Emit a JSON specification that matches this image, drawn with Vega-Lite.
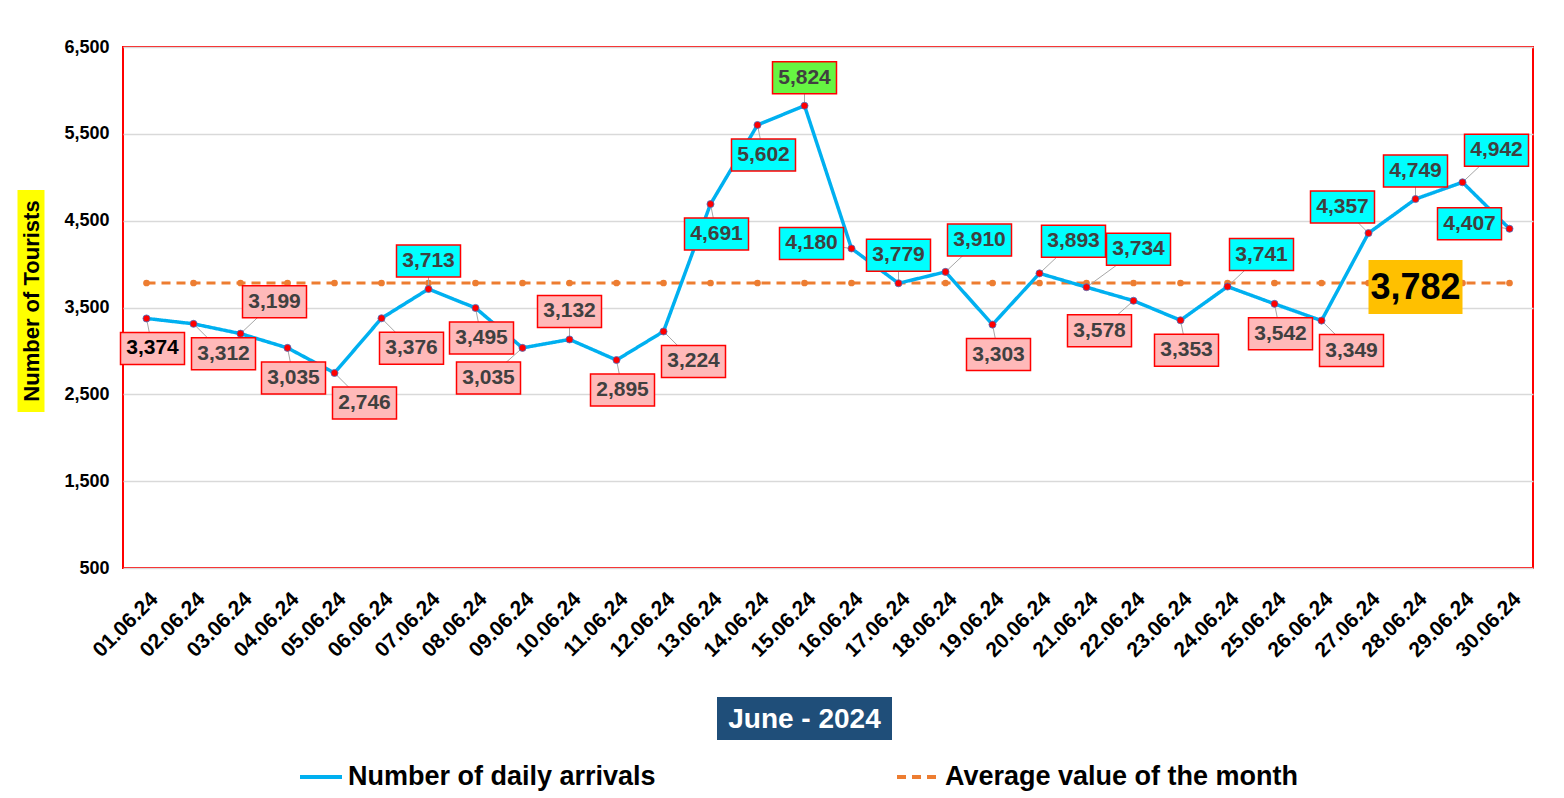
{
  "$schema": "https://vega.github.io/schema/vega-lite/v6.json",
  "width": 1410,
  "height": 521,
  "autosize": {"type": "none"},
  "padding": {"left": 123, "top": 47, "right": 31, "bottom": 230},
  "background": "white",
  "config": {
    "font": "Liberation Sans",
    "view": {"stroke": "#FF0000", "strokeWidth": 2},
    "legend": {
      "orient": "none",
      "legendX": 175,
      "legendY": 707,
      "direction": "horizontal",
      "symbolType": "stroke",
      "symbolSize": 1764,
      "symbolStrokeWidth": 4,
      "labelFontSize": 27,
      "labelFontWeight": "bold",
      "labelColor": "black",
      "labelLimit": 0,
      "labelOffset": 4,
      "columnPadding": 233
    }
  },
  "data": {
    "values": [
      {"date": "01.06.24", "arrivals": 3374, "average": 3782, "pos": "down", "cat": "low"},
      {"date": "02.06.24", "arrivals": 3312, "average": 3782, "pos": "downright", "cat": "low"},
      {"date": "03.06.24", "arrivals": 3199, "average": 3782, "pos": "upright", "cat": "low"},
      {"date": "04.06.24", "arrivals": 3035, "average": 3782, "pos": "down", "cat": "low"},
      {"date": "05.06.24", "arrivals": 2746, "average": 3782, "pos": "downright", "cat": "low"},
      {"date": "06.06.24", "arrivals": 3376, "average": 3782, "pos": "downright", "cat": "low"},
      {"date": "07.06.24", "arrivals": 3713, "average": 3782, "pos": "up", "cat": "high"},
      {"date": "08.06.24", "arrivals": 3495, "average": 3782, "pos": "down", "cat": "low"},
      {"date": "09.06.24", "arrivals": 3035, "average": 3782, "pos": "downleft", "cat": "low"},
      {"date": "10.06.24", "arrivals": 3132, "average": 3782, "pos": "up", "cat": "low"},
      {"date": "11.06.24", "arrivals": 2895, "average": 3782, "pos": "down", "cat": "low"},
      {"date": "12.06.24", "arrivals": 3224, "average": 3782, "pos": "downright", "cat": "low"},
      {"date": "13.06.24", "arrivals": 4691, "average": 3782, "pos": "down", "cat": "high"},
      {"date": "14.06.24", "arrivals": 5602, "average": 3782, "pos": "down", "cat": "high"},
      {"date": "15.06.24", "arrivals": 5824, "average": 3782, "pos": "up", "cat": "max"},
      {"date": "16.06.24", "arrivals": 4180, "average": 3782, "pos": "left", "cat": "high"},
      {"date": "17.06.24", "arrivals": 3779, "average": 3782, "pos": "up", "cat": "high"},
      {"date": "18.06.24", "arrivals": 3910, "average": 3782, "pos": "upright", "cat": "high"},
      {"date": "19.06.24", "arrivals": 3303, "average": 3782, "pos": "down", "cat": "low"},
      {"date": "20.06.24", "arrivals": 3893, "average": 3782, "pos": "upright", "cat": "high"},
      {"date": "21.06.24", "arrivals": 3734, "average": 3782, "pos": "right", "cat": "high"},
      {"date": "22.06.24", "arrivals": 3578, "average": 3782, "pos": "downleft", "cat": "low"},
      {"date": "23.06.24", "arrivals": 3353, "average": 3782, "pos": "down", "cat": "low"},
      {"date": "24.06.24", "arrivals": 3741, "average": 3782, "pos": "upright", "cat": "high"},
      {"date": "25.06.24", "arrivals": 3542, "average": 3782, "pos": "down", "cat": "low"},
      {"date": "26.06.24", "arrivals": 3349, "average": 3782, "pos": "downright", "cat": "low"},
      {"date": "27.06.24", "arrivals": 4357, "average": 3782, "pos": "upleft", "cat": "high"},
      {"date": "28.06.24", "arrivals": 4749, "average": 3782, "pos": "up", "cat": "high"},
      {"date": "29.06.24", "arrivals": 4942, "average": 3782, "pos": "upright", "cat": "high"},
      {"date": "30.06.24", "arrivals": 4407, "average": 3782, "pos": "left", "cat": "high"}
    ]
  },
  "encoding": {
    "x": {
      "field": "date",
      "type": "ordinal",
      "scale": {"type": "point", "padding": 0.5},
      "axis": {
        "title": null,
        "labelAngle": -45,
        "labelAlign": "right",
        "labelBaseline": "top",
        "labelFontSize": 21,
        "labelFontWeight": "bold",
        "labelColor": "black",
        "labelPadding": 20,
        "ticks": false,
        "domain": false,
        "grid": false
      }
    }
  },
  "layer": [
    {
      "mark": {"type": "line", "strokeWidth": 3},
      "encoding": {
        "y": {
          "field": "average",
          "type": "quantitative",
          "scale": {"domain": [500, 6500], "nice": false, "zero": false},
          "axis": {
            "title": null,
            "values": [500, 1500, 2500, 3500, 4500, 5500, 6500],
            "format": ",.0f",
            "labelFontSize": 18,
            "labelFontWeight": "bold",
            "labelColor": "black",
            "labelPadding": 14,
            "ticks": false,
            "domain": false,
            "gridColor": "#D9D9D9",
            "gridWidth": 1.5
          }
        },
        "color": {
          "datum": "Average value of the month",
          "scale": {"domain": ["Number of daily arrivals", "Average value of the month"], "range": ["#00B0F0", "#ED7D31"]},
          "legend": {"title": null}
        },
        "strokeDash": {
          "datum": "Average value of the month",
          "scale": {"domain": ["Number of daily arrivals", "Average value of the month"], "range": [[1, 0], [9, 6]]},
          "legend": {"title": null}
        }
      }
    },
    {
      "mark": {"type": "point", "filled": true, "color": "#ED7D31", "size": 45, "opacity": 1},
      "encoding": {"y": {"field": "average", "type": "quantitative"}}
    },
    {
      "mark": {"type": "line", "strokeWidth": 3.5},
      "encoding": {
        "y": {"field": "arrivals", "type": "quantitative"},
        "color": {"datum": "Number of daily arrivals"},
        "strokeDash": {"datum": "Number of daily arrivals"}
      }
    },
    {
      "mark": {
        "type": "rule",
        "color": "#A6A6A6",
        "strokeWidth": 1,
        "x2Offset": {"expr": "datum.pos=='down'?6:datum.pos=='upright'?34:datum.pos=='downright'?30:datum.pos=='downleft'?-34:datum.pos=='upleft'?-26:datum.pos=='left'?-40:datum.pos=='right'?52:0"},
        "y2Offset": {"expr": "datum.pos=='up'?-28:datum.pos=='down'?30:datum.pos=='upright'?-32:datum.pos=='downright'?30:datum.pos=='downleft'?30:datum.pos=='upleft'?-26:datum.pos=='left'?-5:datum.pos=='right'?-38:0"}
      },
      "encoding": {
        "y": {"field": "arrivals", "type": "quantitative"},
        "x2": {"field": "date"},
        "y2": {"field": "arrivals"}
      }
    },
    {
      "mark": {"type": "point", "filled": true, "fill": "#FF0000", "stroke": "#4472C4", "strokeWidth": 0.8, "size": 50, "opacity": 1},
      "encoding": {"y": {"field": "arrivals", "type": "quantitative"}}
    },
    {
      "mark": {
        "type": "point",
        "shape": "M-1,-0.5H1V0.5H-1Z",
        "size": 4096,
        "filled": true,
        "opacity": 1,
        "stroke": "#FF0000",
        "strokeWidth": 1.5,
        "xOffset": {"expr": "datum.pos=='down'?6:datum.pos=='upright'?34:datum.pos=='downright'?30:datum.pos=='downleft'?-34:datum.pos=='upleft'?-26:datum.pos=='left'?-40:datum.pos=='right'?52:0"},
        "yOffset": {"expr": "datum.pos=='up'?-28:datum.pos=='down'?30:datum.pos=='upright'?-32:datum.pos=='downright'?30:datum.pos=='downleft'?30:datum.pos=='upleft'?-26:datum.pos=='left'?-5:datum.pos=='right'?-38:0"}
      },
      "encoding": {
        "y": {"field": "arrivals", "type": "quantitative"},
        "fill": {
          "field": "cat",
          "type": "nominal",
          "scale": {"domain": ["high", "low", "max"], "range": ["#00FFFF", "#FFB9B9", "#66F542"]},
          "legend": null
        }
      }
    },
    {
      "mark": {
        "type": "text",
        "fontSize": 21,
        "fontWeight": "bold",
        "align": "center",
        "baseline": "middle",
        "dx": {"expr": "datum.pos=='down'?6:datum.pos=='upright'?34:datum.pos=='downright'?30:datum.pos=='downleft'?-34:datum.pos=='upleft'?-26:datum.pos=='left'?-40:datum.pos=='right'?52:0"},
        "dy": {"expr": "datum.pos=='up'?-28:datum.pos=='down'?30:datum.pos=='upright'?-32:datum.pos=='downright'?30:datum.pos=='downleft'?30:datum.pos=='upleft'?-26:datum.pos=='left'?-5:datum.pos=='right'?-38:0"}
      },
      "encoding": {
        "y": {"field": "arrivals", "type": "quantitative"},
        "text": {"field": "arrivals", "type": "quantitative", "format": ","},
        "color": {"condition": {"test": "datum.date=='01.06.24'", "value": "black"}, "value": "#404040"}
      }
    },
    {
      "transform": [{"filter": "datum.date=='28.06.24'"}],
      "mark": {"type": "point", "shape": "M-1,-0.574H1V0.574H-1Z", "size": 8836, "filled": true, "opacity": 1, "color": "#FFC000", "yOffset": 4},
      "encoding": {"y": {"field": "average", "type": "quantitative"}}
    },
    {
      "transform": [{"filter": "datum.date=='28.06.24'"}],
      "mark": {"type": "text", "fontSize": 36, "fontWeight": "bold", "color": "black", "align": "center", "baseline": "middle", "yOffset": 5},
      "encoding": {
        "y": {"field": "average", "type": "quantitative"},
        "text": {"field": "average", "type": "quantitative", "format": ","}
      }
    },
    {
      "transform": [{"filter": "datum.date=='15.06.24'"}],
      "mark": {"type": "point", "shape": "M-1,-0.246H1V0.246H-1Z", "size": 30625, "filled": true, "opacity": 1, "color": "#1F4E79", "yOffset": 150.5},
      "encoding": {"y": {"datum": 500, "type": "quantitative"}}
    },
    {
      "transform": [{"filter": "datum.date=='15.06.24'"}],
      "mark": {"type": "text", "fontSize": 28, "fontWeight": "bold", "color": "white", "align": "center", "baseline": "middle", "yOffset": 151.5},
      "encoding": {"y": {"datum": 500, "type": "quantitative"}, "text": {"value": "June - 2024"}}
    },
    {
      "transform": [{"filter": "datum.date=='01.06.24'"}],
      "mark": {"type": "point", "shape": "M-0.1216,-1H0.1216V1H-0.1216Z", "size": 49284, "filled": true, "opacity": 1, "color": "#FFFF00", "xOffset": -115.5, "yOffset": -6.5},
      "encoding": {"y": {"datum": 3500, "type": "quantitative"}}
    },
    {
      "transform": [{"filter": "datum.date=='01.06.24'"}],
      "mark": {"type": "text", "fontSize": 22, "fontWeight": "bold", "color": "black", "align": "center", "baseline": "middle", "angle": 270, "xOffset": -114.5, "yOffset": -6.5},
      "encoding": {"y": {"datum": 3500, "type": "quantitative"}, "text": {"value": "Number of Tourists"}}
    }
  ]
}
